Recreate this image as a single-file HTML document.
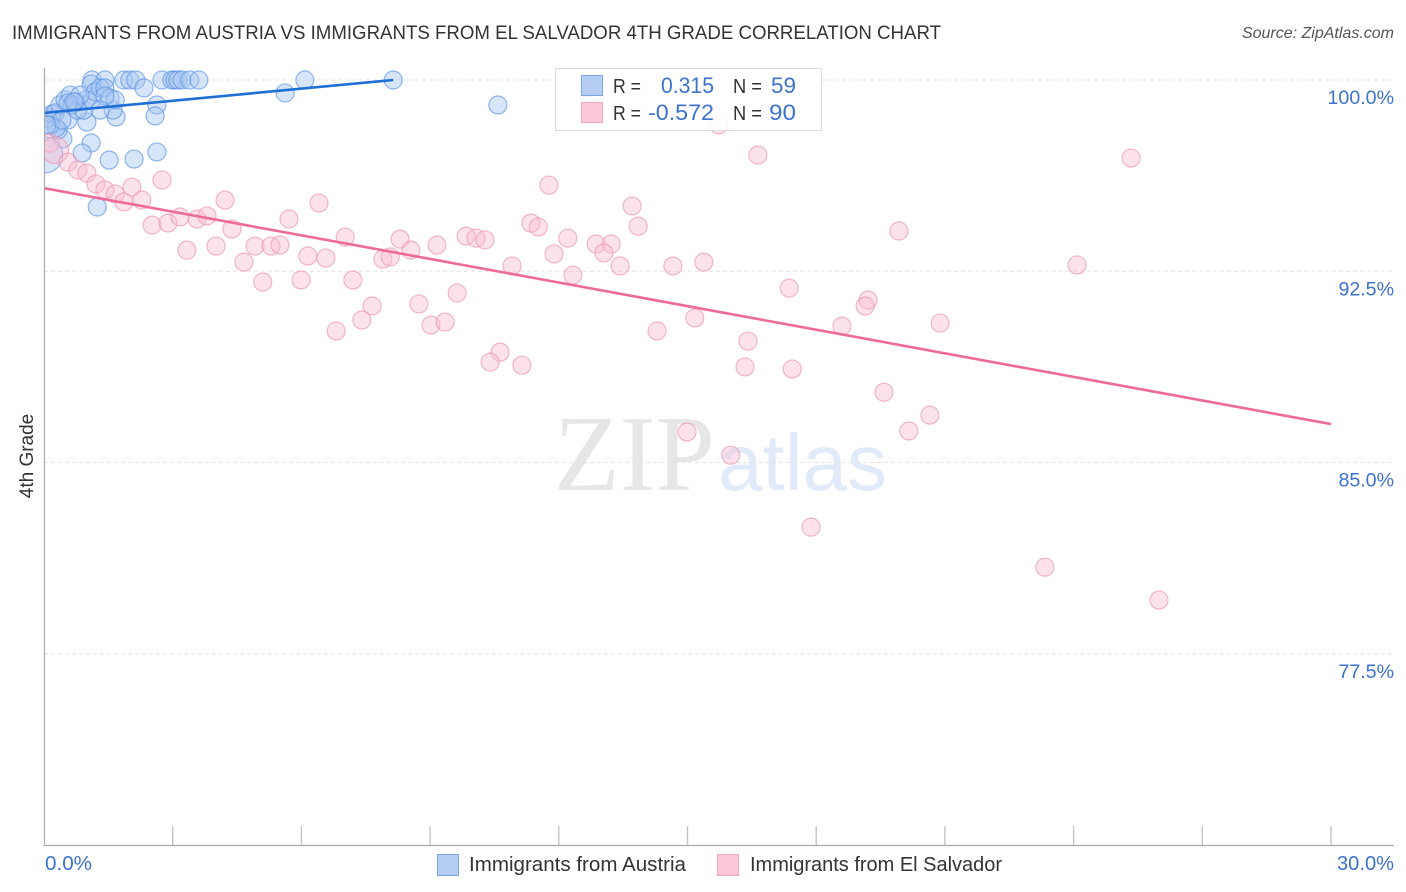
<!DOCTYPE html>
<html>
<head>
<meta charset="utf-8">
<title>Immigrants from Austria vs Immigrants from El Salvador 4th Grade Correlation Chart</title>
<style>
html,body{margin:0;padding:0;background:#fff;}
svg{display:block;font-family:"Liberation Sans",sans-serif;}
</style>
</head>
<body>
<svg id="chart" width="1406" height="892" viewBox="0 0 1406 892" xmlns="http://www.w3.org/2000/svg">
  <defs>
    <clipPath id="plot-clip"><rect x="45" y="68" width="1349" height="777"/></clipPath>
  </defs>
  <text x="12" y="39" font-size="19" fill="#333" textLength="929" lengthAdjust="spacingAndGlyphs">IMMIGRANTS FROM AUSTRIA VS IMMIGRANTS FROM EL SALVADOR 4TH GRADE CORRELATION CHART</text>
  <text x="1394" y="38" font-size="16" font-style="italic" fill="#555" text-anchor="end">Source: ZipAtlas.com</text>

  <g id="watermark">
    <text x="554" y="490" font-family="'Liberation Serif',serif" font-size="108" fill="#e6e6e6" textLength="161" lengthAdjust="spacingAndGlyphs">ZIP</text>
    <text x="718" y="490" font-size="80" fill="#e0eaf9" textLength="169" lengthAdjust="spacingAndGlyphs">atlas</text>
  </g>

  <g id="grid"></g>
  <g id="axes"></g>
  <g id="series" clip-path="url(#plot-clip)"></g>

  <g>
    <rect x="555.5" y="68.5" width="266" height="62" fill="#fff" fill-opacity="0.88" stroke="#ddd" stroke-width="1"/>
    <rect x="581.5" y="75.5" width="21" height="20" fill="#b5cdf3" stroke="#7ba6e6" stroke-width="1"/>
    <rect x="581.5" y="102.5" width="21" height="20" fill="#fcc7d8" stroke="#f2a5bf" stroke-width="1"/>
    <text x="613" y="93" font-size="20" fill="#333" textLength="28" lengthAdjust="spacingAndGlyphs">R =</text>
    <text x="661" y="93" font-size="22" fill="#3d72cf" textLength="53" lengthAdjust="spacingAndGlyphs">0.315</text>
    <text x="733" y="93" font-size="20" fill="#333" textLength="29" lengthAdjust="spacingAndGlyphs">N =</text>
    <text x="771" y="93" font-size="22" fill="#3d72cf" textLength="25" lengthAdjust="spacingAndGlyphs">59</text>
    <text x="613" y="120" font-size="20" fill="#333" textLength="28" lengthAdjust="spacingAndGlyphs">R =</text>
    <text x="648" y="120" font-size="22" fill="#3d72cf" textLength="66" lengthAdjust="spacingAndGlyphs">-0.572</text>
    <text x="733" y="120" font-size="20" fill="#333" textLength="29" lengthAdjust="spacingAndGlyphs">N =</text>
    <text x="769" y="120" font-size="22" fill="#3d72cf" textLength="27" lengthAdjust="spacingAndGlyphs">90</text>
  </g>

  <text transform="translate(33,456) rotate(-90)" font-size="19" fill="#333" text-anchor="middle">4th Grade</text>

  <g>
    <rect x="437.5" y="854.5" width="21" height="21" fill="#b5cdf3" stroke="#7ba6e6" stroke-width="1"/>
    <text x="469" y="871" font-size="20" fill="#333" textLength="217" lengthAdjust="spacingAndGlyphs">Immigrants from Austria</text>
    <rect x="717.5" y="854.5" width="21" height="21" fill="#fcc7d8" stroke="#f2a5bf" stroke-width="1"/>
    <text x="750" y="871" font-size="20" fill="#333" textLength="252" lengthAdjust="spacingAndGlyphs">Immigrants from El Salvador</text>
  </g>
</svg>
<script>
const yTicks = [100, 92.5, 85, 77.5];
const yTickLabels = ["100.0%", "92.5%", "85.0%", "77.5%"];
const xTicks = [0, 3, 6, 9, 12, 15, 18, 21, 24, 27, 30];
const xEndLabels = ["0.0%", "30.0%"];

const austriaX = [1.12,1.42,1.86,2.00,2.14,2.75,2.98,3.05,3.12,3.22,3.40,3.61,6.08,8.14,1.10,2.33,2.63,2.59,1.68,1.61,1.00,0.56,1.10,0.89,1.52,2.10,2.63,1.24,0.44,0.33,0.02,5.62,10.58,0.09,0.19,0.26,0.37,0.49,0.61,0.65,0.79,0.75,0.93,0.98,1.12,1.19,1.31,1.42,1.54,1.66,1.42,0.28,0.14,0.42,0.84,1.31,0.56,0.07,0.70];
const austriaY = [100,100,100,100,100,100,100,100,100,100,100,100,100,100,99.84,99.69,99.02,98.59,98.55,98.82,98.35,98.43,97.53,97.14,96.86,96.90,97.18,95.02,97.69,98.04,97.06,99.49,99.02,98.51,98.67,98.71,99.02,99.22,99.41,99.02,98.82,99.14,98.82,99.22,99.22,99.53,99.69,99.69,99.29,99.22,99.37,98.12,98.24,98.43,99.41,98.82,99.10,98.24,99.14];
const austriaWeight = [1,1,1,1,1,1,1,1,1,1,1,1,1,1,1,1,1,1,1,1,1,1,1,1,1,1,1,1,1,1,4,1,1,1,1,1,1,1,1,1,1,1,1,1,1,1,1,1,1,1,1,1,1,1,1,1,1,1,1];

const salvadorX = [15.73,16.64,25.34,11.77,2.75,4.22,6.41,13.71,5.71,11.35,11.52,13.85,19.93,2.52,2.89,3.17,3.57,3.80,4.38,7.02,8.30,9.84,10.07,10.28,9.16,12.21,12.87,13.22,13.05,3.33,4.01,4.92,5.29,5.50,4.66,6.15,6.57,7.90,8.07,8.55,11.89,10.91,13.43,14.66,15.38,24.08,12.33,5.10,5.99,7.20,17.37,9.63,8.74,7.65,7.41,6.81,9.02,9.35,19.21,19.14,15.17,14.29,18.60,20.89,16.41,10.63,10.40,11.14,16.34,17.44,19.58,20.65,20.16,14.99,16.01,17.88,23.33,25.99,0.14,0.26,0.56,0.79,1.00,1.21,1.42,1.66,1.86,2.05,2.28,12.66];
const salvadorY = [98.24,97.06,96.94,95.88,96.08,95.29,95.18,95.06,94.55,94.39,94.24,94.27,94.08,94.31,94.39,94.63,94.55,94.67,94.16,93.84,93.76,93.88,93.80,93.73,93.53,93.80,93.57,93.57,93.22,93.33,93.49,93.49,93.49,93.53,92.86,93.10,93.02,92.98,93.06,93.33,93.18,92.71,92.71,92.71,92.86,92.75,92.35,92.08,92.16,92.16,91.84,91.65,91.22,91.14,90.59,90.16,90.39,90.51,91.37,91.14,90.67,90.16,90.35,90.47,89.76,89.33,88.94,88.82,88.75,88.67,87.76,86.86,86.24,86.20,85.29,82.47,80.90,79.61,97.53,97.25,96.78,96.47,96.35,95.92,95.69,95.53,95.22,95.80,95.29,99.69];
const salvadorWeight = [1,1,1,1,1,1,1,1,1,1,1,1,1,1,1,1,1,1,1,1,1,1,1,1,1,1,1,1,1,1,1,1,1,1,1,1,1,1,1,1,1,1,1,1,1,1,1,1,1,1,1,1,1,1,1,1,1,1,1,1,1,1,1,1,1,1,1,1,1,1,1,1,1,1,1,1,1,1,1,2.2,1,1,1,1,1,1,1,1,1,1];

const austriaTrendX = [0, 8.14];
const austriaTrendY = [98.71, 100];
const salvadorTrendX = [0, 30];
const salvadorTrendY = [95.76, 86.51];

const NS = "http://www.w3.org/2000/svg";
function xScale(v) { return 44 + (v / 30) * 1287; }
function yScale(v) { return 80 + ((100 - v) / 7.5) * 191.3; }
function make(parent, tag, attrs) {
  const el = document.createElementNS(NS, tag);
  for (const k in attrs) el.setAttribute(k, attrs[k]);
  parent.appendChild(el);
  return el;
}

const grid = document.getElementById("grid");
const axes = document.getElementById("axes");
const series = document.getElementById("series");

yTicks.forEach(function (t, i) {
  const line = make(grid, "line", {x1: 44, x2: 1394, y1: yScale(t), y2: yScale(t), stroke: "#e2e2e2", "stroke-width": 1, "stroke-dasharray": "4 3"});
  
  
  const label = make(axes, "text", {x: 1394, y: yScale(t) + 24, "font-size": 19.6, fill: "#3d72cf", "text-anchor": "end"});
  label.textContent = yTickLabels[i];
  
  
});

const yAxisLine = make(axes, "line", {x1: 44.5, x2: 44.5, y1: 68, y2: 846, stroke: "#aaa", "stroke-width": 1.2});


const xAxisLine = make(axes, "line", {x1: 44, x2: 1394, y1: 845.5, y2: 845.5, stroke: "#aaa", "stroke-width": 1.2});



xTicks.slice(1).forEach(function (t) {
  const tick = make(axes, "line", {x1: xScale(t), x2: xScale(t), y1: 826, y2: 845, stroke: "#c4c4c4", "stroke-width": 1.4});
  
  
});

const xStart = make(axes, "text", {x: 45, y: 870, "font-size": 20, fill: "#3d72cf", textLength: 47, lengthAdjust: "spacingAndGlyphs"});
xStart.textContent = xEndLabels[0];


const xEnd = make(axes, "text", {x: 1337, y: 870, "font-size": 20, fill: "#3d72cf", textLength: 57, lengthAdjust: "spacingAndGlyphs"});
xEnd.textContent = xEndLabels[1];



function radius(w) { return 9 * Math.sqrt(w); }

austriaX.forEach(function (x, i) {
  const c = make(series, "circle", {cx: xScale(x), cy: yScale(austriaY[i]), r: radius(austriaWeight[i]), fill: "#a6c6f2", "fill-opacity": 0.45, stroke: "#5a92e0", "stroke-opacity": 0.65, "stroke-width": 1.2});
  
  
});
salvadorX.forEach(function (x, i) {
  const c = make(series, "circle", {cx: xScale(x), cy: yScale(salvadorY[i]), r: radius(salvadorWeight[i]), fill: "#f9bcd0", "fill-opacity": 0.42, stroke: "#ec98b6", "stroke-opacity": 0.7, "stroke-width": 1.2});
  
  
});

const austriaTrend = make(series, "line", {x1: xScale(austriaTrendX[0]), y1: yScale(austriaTrendY[0]), x2: xScale(austriaTrendX[1]), y2: yScale(austriaTrendY[1]), stroke: "#1f6fd6", "stroke-width": 2.6});


const salvadorTrend = make(series, "line", {x1: xScale(salvadorTrendX[0]), y1: yScale(salvadorTrendY[0]), x2: xScale(salvadorTrendX[1]), y2: yScale(salvadorTrendY[1]), stroke: "#ee6a9b", "stroke-width": 2.6});


</script>
</body>
</html>
